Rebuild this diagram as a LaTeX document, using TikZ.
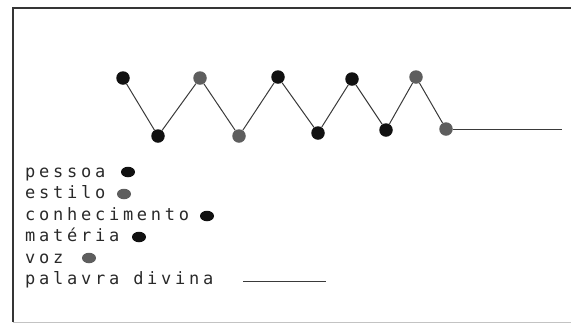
\documentclass[tikz,border=0pt]{standalone}
\usepackage{fontspec}
\setmonofont{DejaVu Sans Mono}[LetterSpace=22]
\usetikzlibrary{shapes.geometric}
\definecolor{ink}{HTML}{111111}
\definecolor{greyink}{HTML}{5E5E5E}
\definecolor{wire}{HTML}{3A3A3A}
\tikzset{
  dotdark/.style={circle,fill=ink,inner sep=0pt,minimum size=13.5pt},
  dotgrey/.style={circle,fill=greyink,inner sep=0pt,minimum size=13.5pt},
  keydark/.style={ellipse,fill=ink,inner sep=0pt,minimum width=14pt,minimum height=10.5pt},
  keygrey/.style={ellipse,fill=greyink,inner sep=0pt,minimum width=14pt,minimum height=10.5pt},
  label/.style={anchor=base west,inner sep=0pt,font=\ttfamily\fontsize{17}{17}\selectfont,text=ink!90},
  wireline/.style={draw=wire,line width=1pt}
}
\begin{document}
\begin{tikzpicture}[x=1pt,y=-1pt]
\useasboundingbox (0,0) rectangle (571,325);
% frame
\draw[line width=2pt,draw=ink!85] (571,8) -- (13,8) -- (13,322);
\draw[line width=1pt,draw=ink!25] (13,322) -- (571,322);
% zigzag chain
\node[dotdark] (z1) at (123,78) {};
\node[dotdark] (z2) at (158,136) {};
\node[dotgrey] (z3) at (200,78) {};
\node[dotgrey] (z4) at (239,136) {};
\node[dotdark] (z5) at (278,77) {};
\node[dotdark] (z6) at (318,133) {};
\node[dotdark] (z7) at (352,79) {};
\node[dotdark] (z8) at (386,130) {};
\node[dotgrey] (z9) at (416,77) {};
\node[dotgrey] (z10) at (446,129) {};
\coordinate (zend) at (562,129);
\draw[wireline] (z1) -- (z2) -- (z3) -- (z4) -- (z5) -- (z6) -- (z7) -- (z8) -- (z9) -- (z10);
\draw[wireline] (z10) -- (zend);
% legend
\node[label] (l1) at (25,177) {pessoa};
\node[label] (l2) at (25,198.5) {estilo};
\node[label] (l3) at (25,220) {conhecimento};
\node[label] (l4) at (25,241.5) {matéria};
\node[label] (l5) at (25,263) {voz};
\node[label] (l6) at (25,284.5) {palavra divina};
\node[keydark] (k1) at (128,172) {};
\node[keygrey] (k2) at (124,194) {};
\node[keydark] (k3) at (207,216) {};
\node[keydark] (k4) at (139,237) {};
\node[keygrey] (k5) at (89,258) {};
\coordinate (k6a) at (243,281);
\coordinate (k6b) at (326,281);
\draw[wireline] (k6a) -- (k6b);
\end{tikzpicture}
\end{document}
